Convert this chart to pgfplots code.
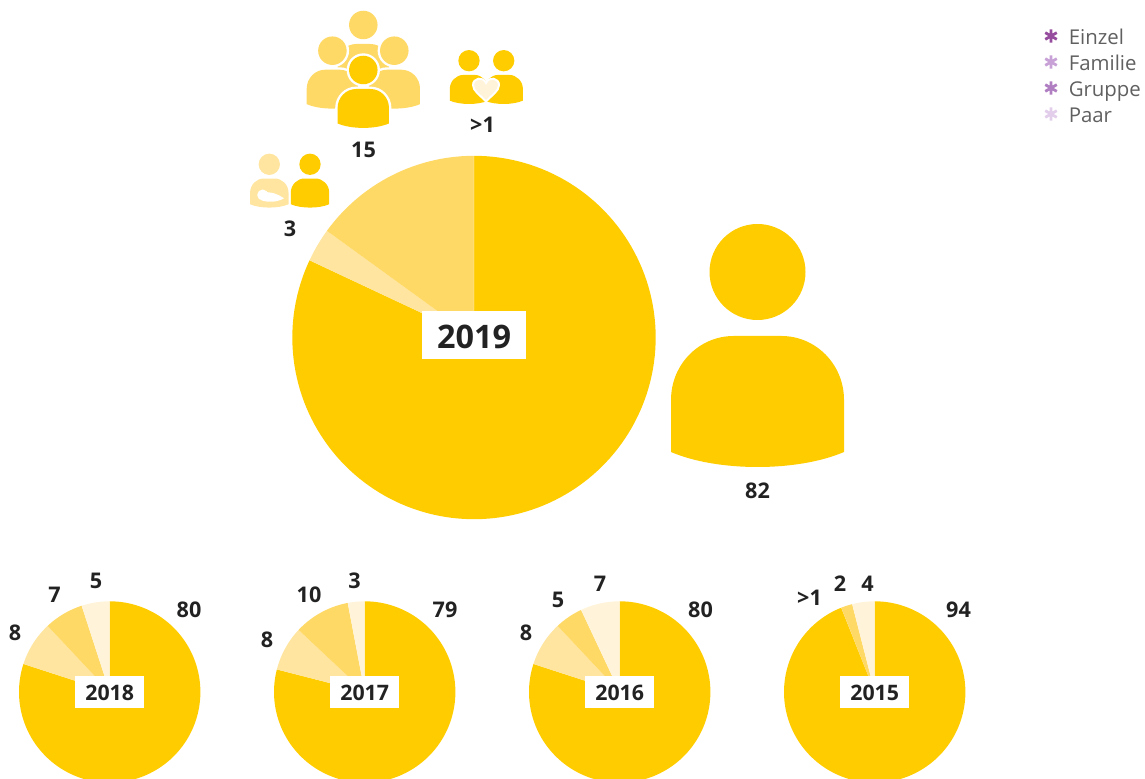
\documentclass[border=0pt]{standalone}
\usepackage{fontspec}
\setmainfont{Open Sans}
\usepackage{pgfplots}
\pgfplotsset{compat=1.18}
\definecolor{cE}{HTML}{FFCC00}
\definecolor{cF}{HTML}{FFE59F}
\definecolor{cG}{HTML}{FFD966}
\definecolor{cP}{HTML}{FFF4D9}
\definecolor{tx}{HTML}{222222}
\definecolor{lg}{HTML}{606060}
\definecolor{mE}{HTML}{964D9E}
\definecolor{mF}{HTML}{C8A2D6}
\definecolor{mG}{HTML}{B07FC2}
\definecolor{mP}{HTML}{E2CEEA}
\newcommand{\pieslice}[6]{%
  \def\coords{(#1,#2)}%
  \pgfmathsetmacro\nn{int(ceil((#5-#4)/2))}%
  \pgfplotsforeachungrouped \i in {0,...,\nn}{%
    \pgfmathsetmacro\aa{#4+(#5-#4)/\nn*\i}%
    \pgfmathsetmacro\px{#1+#3*sin(\aa)}%
    \pgfmathsetmacro\py{#2-#3*cos(\aa)}%
    \xdef\coords{\coords (\px,\py)}%
  }%
  \edef\temp{\noexpand\addplot[fill=#6,draw=none,forget plot] coordinates {\coords (#1,#2)};}\temp
}
% centre x, centre y, radius, Einzel, Familie, Gruppe, Paar
\newcommand{\pie}[7]{%
  \pgfmathsetmacro\tot{#4+#5+#6+#7}%
  \pgfmathsetmacro\aA{360/\tot*#4}%
  \pgfmathsetmacro\aB{360/\tot*(#4+#5)}%
  \pgfmathsetmacro\aC{360/\tot*(#4+#5+#6)}%
  \edef\doit{%
    \noexpand\pieslice{#1}{#2}{#3}{0}{\aA}{cE}%
    \noexpand\pieslice{#1}{#2}{#3}{\aA}{\aB}{cF}%
    \noexpand\pieslice{#1}{#2}{#3}{\aB}{\aC}{cG}%
    \noexpand\pieslice{#1}{#2}{#3}{\aC}{360}{cP}%
  }\doit
}
\newcommand{\lab}[3]{\node[text=tx,font=\fontsize{16.2}{16}\selectfont\bfseries,inner sep=0pt] at (axis cs:#1,#2+0.7) {#3};}
\newcommand{\yr}[3]{\node[fill=white,inner sep=0pt,minimum width=51.75pt,minimum height=23.5pt] at (axis cs:#1,#2) {};
 \node[text=tx,font=\fontsize{16}{16}\selectfont\bfseries,inner sep=0pt] at (axis cs:#1,#2+1) {#3};}
\newcommand{\person}[5]{% cx, cy, scale, colour, halo colour
  \begin{scope}[shift={(#1,#2)},scale=#3]
    \def\bodypath{(-86.5,180) -- (-86.5,128) .. controls (-86.5,92) and (-58,64) .. (-24,64) -- (24,64) .. controls (58,64) and (86.5,92) .. (86.5,128) -- (86.5,180) .. controls (40,200) and (-40,200) .. (-86.5,180) -- cycle}
    \path[draw=#5,line width=3.6pt] (0,0) circle (48);
    \path[draw=#5,line width=3.6pt] \bodypath;
    \path[fill=#4] (0,0) circle (48);
    \path[fill=#4] \bodypath;
  \end{scope}}
\begin{document}
\begin{tikzpicture}
\useasboundingbox (0,0) rectangle (858.75pt,583.5pt);
\begin{axis}[at={(0,0)},anchor=south west,scale only axis,width=858.75pt,height=583.5pt,
  xmin=0,xmax=1145,ymin=0,ymax=778,y dir=reverse,hide axis,clip=true]
\pie{474}{337.5}{181.7}{82}{3}{15}{0.02}
\pie{109.7}{692}{90.7}{80}{8}{7}{5}
\pie{364.7}{692}{90.7}{79}{8}{10}{3}
\pie{619.7}{692}{90.7}{80}{8}{5}{7}
\pie{874.7}{692}{90.7}{94}{0.02}{2}{4}
% legend marks
\addplot[only marks,mark=asterisk,mark size=5pt,color=mE,mark options={line width=2.1pt},forget plot] coordinates {(1051,36)};
\addplot[only marks,mark=asterisk,mark size=5pt,color=mF,mark options={line width=2.1pt},forget plot] coordinates {(1051,62)};
\addplot[only marks,mark=asterisk,mark size=5pt,color=mG,mark options={line width=2.1pt},forget plot] coordinates {(1051,88)};
\addplot[only marks,mark=asterisk,mark size=5pt,color=mP,mark options={line width=2.1pt},forget plot] coordinates {(1051,114)};
\node[anchor=base west,text=lg,font=\fontsize{15.3}{15}\selectfont,inner sep=0pt] at (axis cs:1068.5,44) {Einzel};
\node[anchor=base west,text=lg,font=\fontsize{15.3}{15}\selectfont,inner sep=0pt] at (axis cs:1068.5,70) {Familie};
\node[anchor=base west,text=lg,font=\fontsize{15.3}{15}\selectfont,inner sep=0pt] at (axis cs:1068.5,96) {Gruppe};
\node[anchor=base west,text=lg,font=\fontsize{15.3}{15}\selectfont,inner sep=0pt] at (axis cs:1068.5,122) {Paar};
\node[fill=white,inner sep=0pt,minimum width=78pt,minimum height=36pt] at (axis cs:474,335) {};
\node[text=tx,font=\fontsize{24.3}{25}\selectfont\bfseries,inner sep=0pt] at (axis cs:474,337) {2019};
\yr{109.7}{692}{2018}
\yr{364.7}{692}{2017}
\yr{619.7}{692}{2016}
\yr{874.7}{692}{2015}
\lab{363.5}{149}{15}\lab{482.5}{124}{>1}\lab{290}{228}{3}\lab{757.5}{490}{82}
\lab{189}{609}{80}\lab{15}{632}{8}\lab{54.5}{594}{7}\lab{96}{580}{5}
\lab{445}{609}{79}\lab{267}{639}{8}\lab{309}{594}{10}\lab{354.5}{580}{3}
\lab{700.5}{609}{80}\lab{526}{632}{8}\lab{558}{599}{5}\lab{600}{583}{7}
\lab{958.5}{609}{94}\lab{809.5}{597}{>1}\lab{840}{583}{2}\lab{867.5}{583}{4}
\end{axis}
\begin{scope}[x=.75pt,y=-.75pt,shift={(0,583.5pt)}]
  % Einzel
  \person{757.5}{272}{1}{cE}{none}
  % Gruppe
  \person{363.3}{25}{.297}{cG}{none}
  \person{332.4}{50.7}{.297}{cG}{white}
  \person{394.3}{50.7}{.297}{cG}{white}
  \person{363.3}{70}{.297}{cE}{white}
  % Paar
  \person{469}{60.7}{.222}{cE}{none}
  \person{503.7}{60.7}{.222}{cE}{none}
  \path[fill=cP,draw=white,line width=1.5pt] (486,101.5) .. controls (480,95) and (473,91) .. (473,85) .. controls (473,78) and (483,76) .. (486,83) .. controls (489,76) and (499,78) .. (499,85) .. controls (499,91) and (492,95) .. (486,101.5) -- cycle;
  % Familie
  \person{269.3}{164.3}{.222}{cF}{none}
  \person{310}{164.3}{.222}{cE}{none}
  \fill[white] (262.7,195) circle (5.5);
  \fill[white] (263,192) .. controls (272,192) and (278,194) .. (284,198.3) .. controls (278,202) and (268,203) .. (261,200) -- cycle;
\end{scope}
\end{tikzpicture}
\end{document}
